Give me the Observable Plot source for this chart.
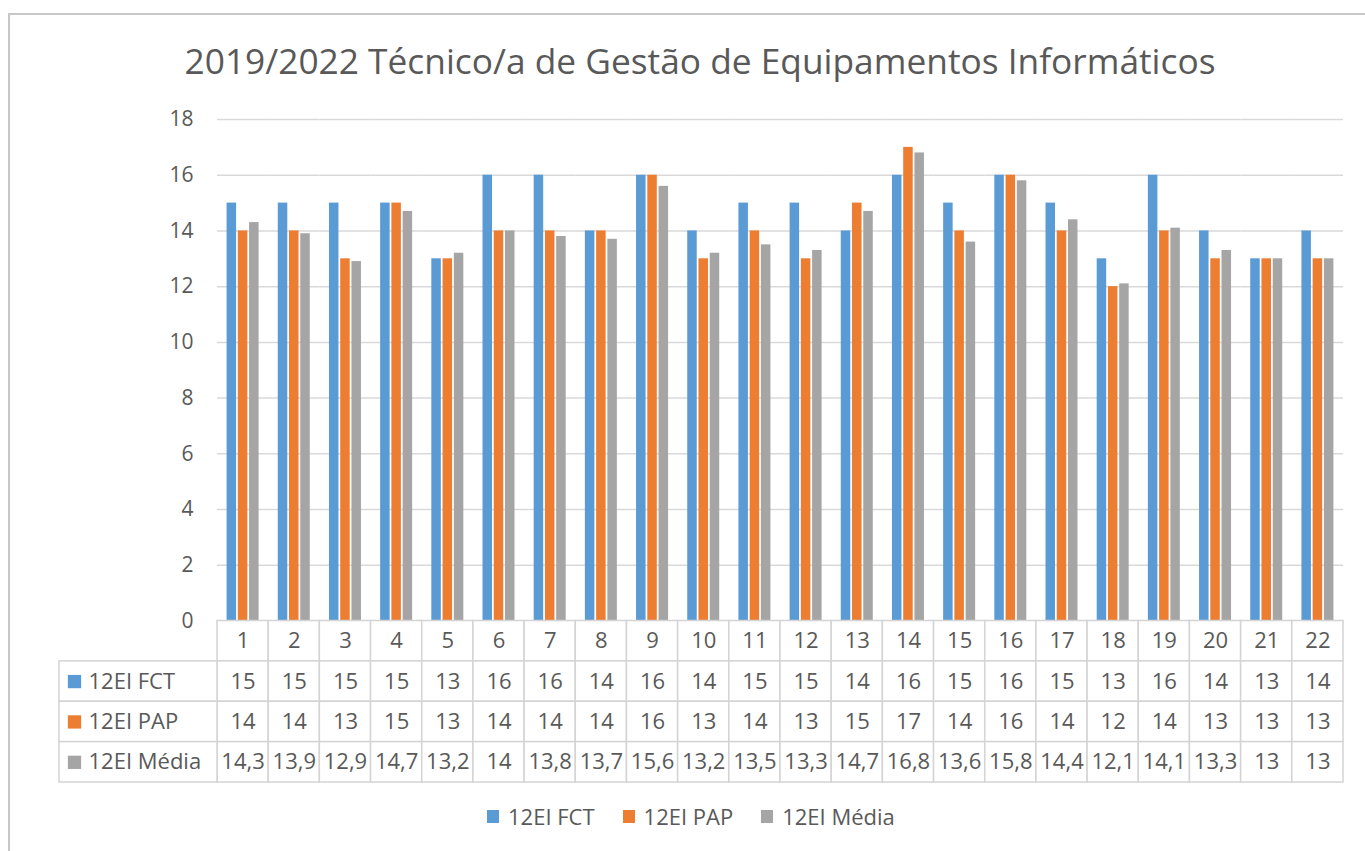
<!DOCTYPE html>
<html><head><meta charset="utf-8">
<script src="https://cdn.jsdelivr.net/npm/d3@7"></script>
<script src="https://cdn.jsdelivr.net/npm/@observablehq/plot@0.6"></script>
<style>
body{margin:0;background:#fff;width:1365px;height:851px;overflow:hidden;position:relative;font-family:"Open Sans",sans-serif;color:#595959}
#frame{position:absolute;left:8px;top:13px;width:1400px;height:900px;border:2px solid #c8c8c8;box-sizing:border-box}
#title{position:absolute;left:0;width:1400px;text-align:center;top:37px;font-size:35.3px;line-height:46px;white-space:nowrap}
#bars{position:absolute;left:0;top:0}
#table{position:absolute;left:0;top:600px}
#legend{position:absolute;left:487px;top:801px;display:flex;align-items:center;gap:28px;font-size:22px;line-height:30px}
#legend .sw{display:inline-block;width:12px;height:13px;margin-right:9px;vertical-align:middle}
#legend span.item{display:inline-flex;align-items:center}
svg{overflow:visible}
</style>
</head><body>
<div id="frame"></div>
<div id="title">2019/2022 Técnico/a de Gestão de Equipamentos Informáticos</div>
<div id="bars"></div>
<div id="table"></div>
<div id="legend"></div>
<script>
const categories = ["1","2","3","4","5","6","7","8","9","10","11","12","13","14","15","16","17","18","19","20","21","22"];
const series = ["12EI FCT","12EI PAP","12EI Média"];
const fct = [15,15,15,15,13,16,16,14,16,14,15,15,14,16,15,16,15,13,16,14,13,14];
const pap = [14,14,13,15,13,14,14,14,16,13,14,13,15,17,14,16,14,12,14,13,13,13];
const media = [14.3,13.9,12.9,14.7,13.2,14,13.8,13.7,15.6,13.2,13.5,13.3,14.7,16.8,13.6,15.8,14.4,12.1,14.1,13.3,13,13];
const yTicks = [0,2,4,6,8,10,12,14,16,18];
const colors = ["#5b9bd5","#ed7d31","#a5a5a5"];

const values = [fct, pap, media];
const fmt = v => String(v).replace(".", ",");
const font = '"Open Sans", sans-serif';
const textColor = "#595959";
const gridColor = "#d9d9d9";

const rows = [];
categories.forEach((c, i) => series.forEach((s, j) => rows.push({cat: c, series: s, value: values[j][i]})));

const bars = Plot.plot({
  width: 1365, height: 640,
  marginLeft: 217, marginRight: 22, marginTop: 119, marginBottom: 19.5,
  fx: {domain: categories, padding: 0, round: false, axis: null, label: null},
  x: {domain: series, paddingInner: 0.155, paddingOuter: 0.853, round: false, axis: null},
  y: {domain: [0, 18], ticks: yTicks, tickSize: 0, tickPadding: 24, label: null, tickFormat: d => String(d)},
  color: {domain: series, range: colors},
  style: {fontFamily: font, fontSize: "21px", color: textColor, background: "transparent"},
  marks: [
    Plot.gridY(yTicks, {stroke: gridColor, strokeOpacity: 1, strokeWidth: 1.5}),
    Plot.barY(rows, {fx: "cat", x: "series", y: "value", fill: "series"})
  ]
});
document.getElementById("bars").appendChild(bars);

// data table
const rowKeys = ["cat", ...series];
const labelSpan = (217 - 59) / ((1343 - 217) / categories.length);
const cells = [];
categories.forEach((c, i) => {
  cells.push({row: "cat", x1: i, x2: i + 1, text: c});
  series.forEach((s, j) => cells.push({row: s, x1: i, x2: i + 1, text: fmt(values[j][i])}));
});
const labelCells = series.map(s => ({row: s, x1: -labelSpan, x2: 0, text: s}));

const table = Plot.plot({
  width: 1365, height: 200,
  marginLeft: 59, marginRight: 22, marginTop: 20.5, marginBottom: 18,
  x: {domain: [-labelSpan, categories.length], axis: null},
  y: {domain: rowKeys, padding: 0, round: false, axis: null},
  color: {domain: series, range: colors},
  style: {fontFamily: font, fontSize: "22px", color: textColor, background: "transparent"},
  marks: [
    Plot.barX(cells.concat(labelCells), {x1: "x1", x2: "x2", y: "row", fill: "white", stroke: "#d4d4d4", strokeWidth: 1.5}),
    Plot.text(cells, {x: d => (d.x1 + d.x2) / 2, y: "row", text: "text", fill: textColor, fontSize: 22}),
    Plot.dot(labelCells, {x: "x1", y: "row", dx: 15, symbol: "square", r: 7.5, fill: "row", stroke: null}),
    Plot.text(labelCells, {x: "x1", y: "row", dx: 29, text: "text", textAnchor: "start", fill: textColor, fontSize: 22})
  ]
});
document.getElementById("table").appendChild(table);

// legend
const leg = document.getElementById("legend");
series.forEach((s, i) => {
  const item = document.createElement("span");
  item.className = "item";
  const sw = document.createElement("span");
  sw.className = "sw";
  sw.style.background = colors[i];
  item.appendChild(sw);
  item.appendChild(document.createTextNode(s));
  leg.appendChild(item);
});
</script>
</body></html>
